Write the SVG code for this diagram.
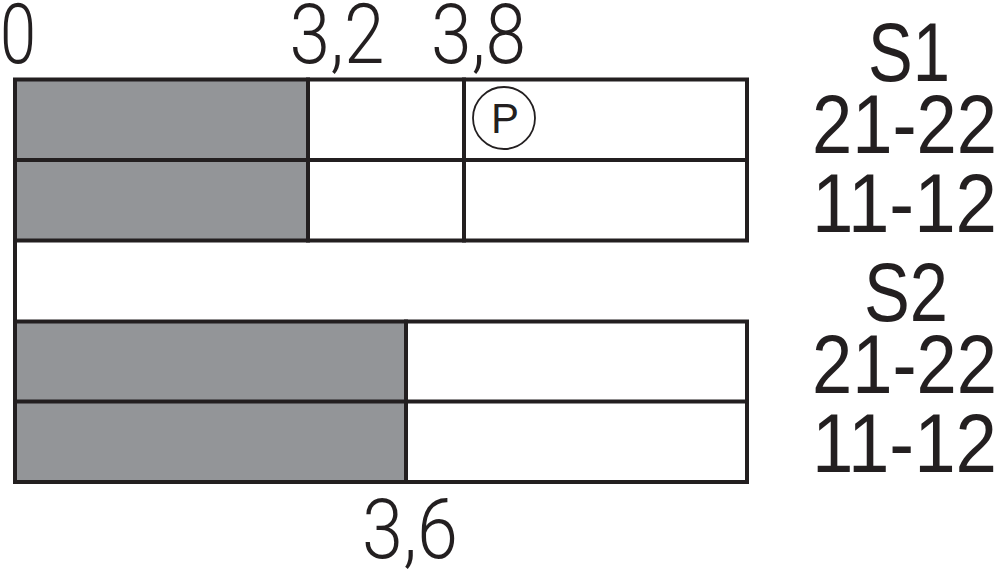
<svg xmlns="http://www.w3.org/2000/svg" width="1000" height="569" viewBox="0 0 1000 569">
  <style>
    .ln { stroke: #231f20; stroke-width: 4; fill: none; stroke-linecap: square; }
    .on { fill: #939598; stroke: none; }
    .din { font-family: Roboto, "DejaVu Sans", sans-serif; font-weight: 300; font-size: 83px; fill: #231f20; }
    .lab { font-family: "Liberation Sans", Arial, sans-serif; font-size: 84px; fill: #231f20; }
    .p { font-family: "Liberation Sans", Arial, sans-serif; font-size: 42px; fill: #231f20; }
  </style>
  <rect width="1000" height="569" fill="#ffffff"/>

  <g id="s1-21-22">
    <rect class="on" x="15" y="79.5" width="293" height="80.5"/>
  </g>
  <g id="s1-11-12">
    <rect class="on" x="15" y="160" width="293" height="80.5"/>
  </g>
  <g id="s2-21-22">
    <rect class="on" x="15" y="321.5" width="391" height="80"/>
  </g>
  <g id="s2-11-12">
    <rect class="on" x="15" y="401.5" width="391" height="80.5"/>
  </g>

  <g id="connectors">
    <rect class="ln" x="15" y="79.5" width="732" height="161"/>
    <line class="ln" x1="15" y1="160" x2="747" y2="160"/>
    <line class="ln" x1="308" y1="79.5" x2="308" y2="240.5"/>
    <line class="ln" x1="464" y1="79.5" x2="464" y2="240.5"/>
    <line class="ln" x1="15" y1="240.5" x2="15" y2="321.5"/>
    <rect class="ln" x="15" y="321.5" width="732" height="160.5"/>
    <line class="ln" x1="15" y1="401.5" x2="747" y2="401.5"/>
    <line class="ln" x1="406" y1="321.5" x2="406" y2="482"/>
  </g>

  <g id="marker-p">
    <circle cx="504" cy="118" r="31" fill="none" stroke="#231f20" stroke-width="1.8"/>
    <text class="p" x="505" y="133" text-anchor="middle">P</text>
  </g>

  <g id="scale-labels">
    <text class="din" x="0" y="63" textLength="36" lengthAdjust="spacingAndGlyphs">0</text>
    <text class="din" x="289.5" y="63" textLength="95" lengthAdjust="spacingAndGlyphs">3,2</text>
    <text class="din" x="431" y="63" textLength="95" lengthAdjust="spacingAndGlyphs">3,8</text>
    <text class="din" x="362" y="558" textLength="96" lengthAdjust="spacingAndGlyphs">3,6</text>
  </g>

  <g id="contact-labels">
    <text class="lab" x="868" y="81" textLength="82" lengthAdjust="spacingAndGlyphs">S1</text>
    <text class="lab" x="812" y="153" textLength="185" lengthAdjust="spacingAndGlyphs">21-22</text>
    <text class="lab" x="812" y="232" textLength="185" lengthAdjust="spacingAndGlyphs">11-12</text>
    <text class="lab" x="864" y="321" textLength="84" lengthAdjust="spacingAndGlyphs">S2</text>
    <text class="lab" x="812" y="393" textLength="185" lengthAdjust="spacingAndGlyphs">21-22</text>
    <text class="lab" x="812" y="472" textLength="185" lengthAdjust="spacingAndGlyphs">11-12</text>
  </g>
</svg>
